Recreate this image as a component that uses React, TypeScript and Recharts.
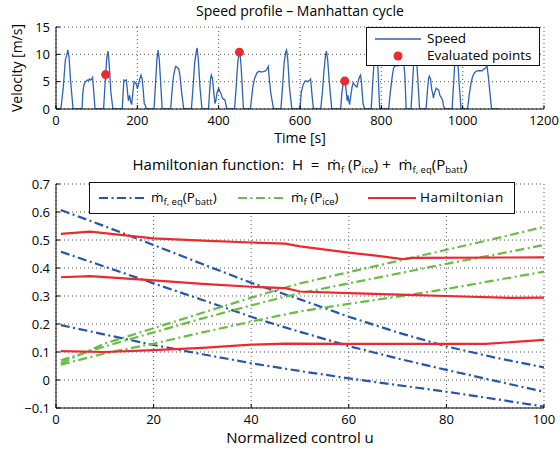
import React from 'react';
import { LineChart, Line, XAxis, YAxis, CartesianGrid, Legend } from 'recharts';

const FONT = '"Open Sans", "Noto Sans", "DejaVu Sans", sans-serif';
const BLUE = '#2456ad';
const GREEN = '#69bd45';
const RED = '#eb2a2e';
const SPEED = '#2d62b5';
const DASHDOT = '9 3.5 2 3.5';

// ---------- Speed profile (top) ----------
const timeTicks = [0, 200, 400, 600, 800, 1000, 1200];
const velocityTicks = [0, 5, 10, 15];

const speedTime = [0, 12, 18, 23, 27, 29, 32, 36, 42, 64, 66, 69, 73, 77, 80, 82, 85, 88, 90, 93, 96, 117, 121, 125, 128, 131, 135, 140, 163, 165, 167, 170, 173, 176, 178, 181, 184, 186, 189, 192, 195, 198, 200, 203, 206, 209, 212, 215, 217, 219, 222, 241, 245, 248, 251, 254, 258, 261, 282, 285, 289, 293, 295, 298, 302, 305, 309, 314, 333, 337, 341, 345, 347, 350, 354, 359, 375, 378, 380, 382, 385, 388, 391, 393, 396, 400, 403, 406, 409, 412, 415, 418, 420, 439, 443, 447, 450, 452, 455, 458, 461, 478, 481, 484, 488, 494, 499, 504, 508, 512, 516, 520, 522, 524, 528, 535, 553, 557, 561, 565, 567, 570, 574, 580, 600, 603, 608, 612, 614, 618, 621, 624, 626, 629, 633, 651, 655, 659, 663, 665, 668, 672, 678, 700, 703, 706, 709, 712, 714, 716, 718, 720, 722, 725, 728, 731, 734, 737, 740, 743, 746, 749, 751, 753, 755, 759, 775, 779, 783, 787, 790, 793, 796, 818, 822, 826, 830, 835, 840, 845, 850, 855, 858, 861, 873, 877, 880, 883, 886, 890, 894, 910, 913, 916, 918, 921, 924, 926, 928, 931, 935, 938, 941, 944, 948, 951, 953, 957, 974, 978, 981, 984, 987, 991, 996, 1012, 1016, 1020, 1024, 1028, 1033, 1038, 1044, 1048, 1052, 1056, 1060, 1063, 1067, 1071, 1090];
const speedValue = [0, 0, 4, 9, 10, 10.8, 9.5, 5, 0, 0, 3, 4.5, 5, 5.3, 5.2, 5.5, 5.3, 5.5, 5.8, 3, 0, 0, 5, 9.5, 10.6, 8, 3, 0, 0, 3, 5.3, 5.2, 5.3, 3, 1.5, 2.5, 1.2, 0.8, 3, 5, 4.8, 4.5, 3.7, 4.5, 5.5, 6.2, 5.5, 3, 1, 0.8, 0, 0, 5, 9, 10.8, 9, 4, 0, 0, 3, 6, 7.5, 7.8, 7.6, 7.3, 6, 3, 0, 0, 4, 8.5, 10.5, 11.2, 9, 4, 0, 0, 3.5, 5.5, 6.2, 5.5, 3, 1, 1.5, 3, 3.8, 3.2, 2.8, 2, 1.8, 1.7, 0.8, 0, 0, 4, 8.5, 10.3, 10.5, 8, 4, 0, 0, 2, 4, 5.5, 6.6, 6.9, 6.8, 6.8, 6.9, 7, 7.5, 7.8, 6, 3, 0, 0, 4, 8.5, 10.5, 10.8, 9, 4, 0, 0, 3, 4.5, 5, 5.2, 5, 5.1, 5.3, 5.5, 3, 0, 0, 3, 7, 10, 10.6, 9, 5, 0, 0, 3, 4.5, 5.1, 4.5, 3, 1.5, 2.5, 1.5, 0.8, 2.5, 4, 4.8, 4.5, 4.2, 4, 5, 5.8, 6.2, 5, 3, 1, 0, 0, 5, 9.5, 11, 10, 5, 0, 0, 3, 5.5, 7.5, 8, 7.9, 8, 8.2, 8.5, 6, 0, 0, 5, 9, 11, 10, 5, 0, 0, 3, 5.5, 6, 5.5, 3.5, 3, 2, 3, 3.8, 3.6, 3.5, 2.5, 2, 1.5, 0.5, 0, 0, 5, 9, 10.8, 10, 5, 0, 0, 2.5, 4.5, 5.8, 6.5, 6.9, 7, 7, 7, 7.3, 7.5, 7.8, 6, 3, 0, 0];

const evalTime = [122, 451, 710];
const evalSpeed = [6.3, 10.4, 5.1];

// ---------- Hamiltonian (bottom) ----------
const controlTicks = [0, 20, 40, 60, 80, 100];
const hamTicks = [-0.1, 0, 0.1, 0.2, 0.3, 0.4, 0.5, 0.6, 0.7];

const battHighU = [1, 10, 20, 30, 40, 50, 60, 70, 80, 90, 100];
const battHighV = [0.607, 0.549, 0.482, 0.414, 0.347, 0.288, 0.226, 0.17, 0.12, 0.08, 0.045];
const battMidU = [1, 12, 20, 30, 42, 50, 60, 70, 80, 90, 100];
const battMidV = [0.458, 0.393, 0.345, 0.286, 0.214, 0.172, 0.121, 0.077, 0.036, -0.003, -0.042];
const battLowU = [1, 20, 30, 40, 50, 60, 70, 80, 90, 100];
const battLowV = [0.196, 0.125, 0.092, 0.06, 0.032, 0.006, -0.018, -0.042, -0.068, -0.095];

const iceHighU = [1, 10, 20, 30, 43, 50, 60, 70, 80, 90, 100];
const iceHighV = [0.06, 0.13, 0.185, 0.24, 0.31, 0.345, 0.385, 0.425, 0.465, 0.505, 0.547];
const iceMidU = [1, 10, 20, 30, 43, 50, 60, 70, 80, 90, 100];
const iceMidV = [0.07, 0.12, 0.17, 0.22, 0.28, 0.31, 0.345, 0.38, 0.415, 0.448, 0.482];
const iceLowU = [1, 10, 20, 30, 43, 50, 60, 72, 80, 90, 100];
const iceLowV = [0.055, 0.095, 0.13, 0.17, 0.22, 0.245, 0.272, 0.303, 0.325, 0.356, 0.387];

const hamHighU = [1, 7, 20, 30, 40, 47, 50, 60, 66, 71, 73, 100];
const hamHighV = [0.522, 0.53, 0.506, 0.498, 0.491, 0.487, 0.477, 0.455, 0.443, 0.432, 0.436, 0.438];
const hamMidU = [1, 7, 20, 30, 40, 47, 50, 60, 72, 80, 93, 100];
const hamMidV = [0.367, 0.371, 0.356, 0.343, 0.333, 0.328, 0.316, 0.31, 0.304, 0.3, 0.293, 0.294];
const hamLowU = [1, 10, 20, 30, 40, 47, 60, 72, 88, 100];
const hamLowV = [0.103, 0.1, 0.107, 0.115, 0.126, 0.13, 0.129, 0.129, 0.129, 0.143];

const zipPts = (xs: number[], ys: number[], kx: string) => xs.map((x, i) => ({ [kx]: x, v: ys[i] }));

const speedData = zipPts(speedTime, speedValue, 't');
const evalData = zipPts(evalTime, evalSpeed, 't');

const bottomSeries = [
  { id: 'b1', data: zipPts(battHighU, battHighV, 'u'), color: BLUE, dash: DASHDOT, w: 2.2 },
  { id: 'b2', data: zipPts(battMidU, battMidV, 'u'), color: BLUE, dash: DASHDOT, w: 2.2 },
  { id: 'b3', data: zipPts(battLowU, battLowV, 'u'), color: BLUE, dash: DASHDOT, w: 2.2 },
  { id: 'g1', data: zipPts(iceHighU, iceHighV, 'u'), color: GREEN, dash: DASHDOT, w: 2.2 },
  { id: 'g2', data: zipPts(iceMidU, iceMidV, 'u'), color: GREEN, dash: DASHDOT, w: 2.2 },
  { id: 'g3', data: zipPts(iceLowU, iceLowV, 'u'), color: GREEN, dash: DASHDOT, w: 2.2 },
  { id: 'h1', data: zipPts(hamHighU, hamHighV, 'u'), color: RED, dash: undefined, w: 2.2 },
  { id: 'h2', data: zipPts(hamMidU, hamMidV, 'u'), color: RED, dash: undefined, w: 2.2 },
  { id: 'h3', data: zipPts(hamLowU, hamLowV, 'u'), color: RED, dash: undefined, w: 2.2 },
];

const tickStyle = { fill: '#000', fontSize: 13, fontFamily: FONT };
const fmtHam = (v: number) => {
  const r = Math.round(v * 10) / 10;
  if (r === 0) return '0';
  return r < 0 ? '\u2212' + Math.abs(r).toString() : r.toString();
};

const sub = { fontSize: 9.5, position: 'relative' as const, top: 3 };

const SpeedLegend = () => (
  <div style={{ width: 174, height: 39, boxSizing: 'border-box', border: '1.5px solid #111', background: '#fff', position: 'relative', fontFamily: FONT, fontSize: 13.5, color: '#000' }}>
    <svg width={46} height={10} style={{ position: 'absolute', left: 8, top: 6 }}>
      <line x1={0} y1={5} x2={46} y2={5} stroke={SPEED} strokeWidth={1.3} />
    </svg>
    <span style={{ position: 'absolute', left: 60, top: 1, lineHeight: '18px' }}>Speed</span>
    <svg width={12} height={12} style={{ position: 'absolute', left: 25, top: 22 }}>
      <circle cx={6} cy={6} r={4.5} fill={RED} />
    </svg>
    <span style={{ position: 'absolute', left: 60, top: 18, lineHeight: '18px' }}>Evaluated points</span>
  </div>
);

const HamLegend = () => (
  <div style={{ width: 426, height: 32, boxSizing: 'border-box', border: '1.5px solid #111', background: '#fff', position: 'relative', fontFamily: FONT, fontSize: 13.5, color: '#000' }}>
    <svg width={48} height={10} style={{ position: 'absolute', left: 9, top: 10 }}>
      <line x1={0} y1={5} x2={48} y2={5} stroke={BLUE} strokeWidth={2.2} strokeDasharray={DASHDOT} />
    </svg>
    <span style={{ position: 'absolute', left: 61, top: 5, lineHeight: '18px', whiteSpace: 'nowrap' }}>
      ṁ<span style={sub}>f, eq</span>(P<span style={sub}>batt</span>)
    </span>
    <svg width={48} height={10} style={{ position: 'absolute', left: 148, top: 10 }}>
      <line x1={0} y1={5} x2={48} y2={5} stroke={GREEN} strokeWidth={2.2} strokeDasharray={DASHDOT} />
    </svg>
    <span style={{ position: 'absolute', left: 201, top: 5, lineHeight: '18px', whiteSpace: 'nowrap' }}>
      ṁ<span style={sub}>f</span> (P<span style={sub}>ice</span>)
    </span>
    <svg width={48} height={10} style={{ position: 'absolute', left: 278, top: 10 }}>
      <line x1={0} y1={5} x2={48} y2={5} stroke={RED} strokeWidth={2.2} />
    </svg>
    <span style={{ position: 'absolute', left: 330, top: 5, lineHeight: '18px', whiteSpace: 'nowrap', letterSpacing: 0.6 }}>Hamiltonian</span>
  </div>
);

const centered = (x: number, y: number, size: number): React.CSSProperties => ({
  position: 'absolute', left: x, top: y, transform: 'translate(-50%, -50%)', whiteSpace: 'nowrap',
  fontFamily: FONT, fontSize: size, color: '#000', lineHeight: 1,
});

export default function App() {
  return (
    <div style={{ position: 'absolute', left: 0, top: 0, width: 560, height: 451, background: '#fff', overflow: 'hidden' }}>
      {/* Top chart */}
      <div style={{ position: 'absolute', left: 0, top: 0 }}>
        <LineChart width={560} height={145} margin={{ top: 27, right: 16, left: 16, bottom: 6 }}>
          <CartesianGrid stroke="#555" strokeDasharray="1 3" />
          <XAxis dataKey="t" type="number" domain={[0, 1200]} ticks={timeTicks} allowDataOverflow
            height={30} tickSize={-4} tickMargin={11} tick={tickStyle} axisLine={{ stroke: '#000' }} tickLine={{ stroke: '#000' }} />
          <XAxis xAxisId="top" orientation="top" type="number" domain={[0, 1200]} ticks={timeTicks} allowDataOverflow
            height={0} tickSize={-4} tick={false} axisLine={{ stroke: '#000' }} tickLine={{ stroke: '#000' }} />
          <YAxis type="number" domain={[0, 15]} ticks={velocityTicks} allowDataOverflow
            width={40} tickSize={-4} tickMargin={10} tick={tickStyle} axisLine={{ stroke: '#000' }} tickLine={{ stroke: '#000' }} />
          <YAxis yAxisId="right" orientation="right" type="number" domain={[0, 15]} ticks={velocityTicks} allowDataOverflow
            width={0} tickSize={-4} tick={false} axisLine={{ stroke: '#000' }} tickLine={{ stroke: '#000' }} />
          <Line data={speedData} dataKey="v" type="linear" stroke={SPEED} strokeWidth={1.3} dot={false} isAnimationActive={false} />
          <Line data={evalData} dataKey="v" stroke="none" dot={{ r: 4.5, fill: RED, stroke: 'none' }} activeDot={false} isAnimationActive={false} legendType="circle" />
          <Legend layout="vertical" align="center" verticalAlign="middle" content={() => <SpeedLegend />}
            wrapperStyle={{ position: 'absolute', left: 366, top: 27, width: 174, height: 39 }} />
        </LineChart>
      </div>

      {/* Bottom chart */}
      <div style={{ position: 'absolute', left: 0, top: 145 }}>
        <LineChart width={560} height={306} margin={{ top: 39, right: 16, left: 16, bottom: 13 }}>
          <CartesianGrid stroke="#555" strokeDasharray="1 3" />
          <XAxis dataKey="u" type="number" domain={[0, 100]} ticks={controlTicks} allowDataOverflow
            height={30} tickSize={-4} tickMargin={11} tick={tickStyle} axisLine={{ stroke: '#000' }} tickLine={{ stroke: '#000' }} />
          <XAxis xAxisId="top" orientation="top" type="number" domain={[0, 100]} ticks={controlTicks} allowDataOverflow
            height={0} tickSize={-4} tick={false} axisLine={{ stroke: '#000' }} tickLine={{ stroke: '#000' }} />
          <YAxis type="number" domain={[-0.1, 0.7]} ticks={hamTicks} allowDataOverflow tickFormatter={fmtHam}
            width={40} tickSize={-4} tickMargin={10} tick={tickStyle} axisLine={{ stroke: '#000' }} tickLine={{ stroke: '#000' }} />
          <YAxis yAxisId="right" orientation="right" type="number" domain={[-0.1, 0.7]} ticks={hamTicks} allowDataOverflow
            width={0} tickSize={-4} tick={false} axisLine={{ stroke: '#000' }} tickLine={{ stroke: '#000' }} />
          {bottomSeries.map((s) => (
            <Line key={s.id} data={s.data} dataKey="v" type="linear" stroke={s.color} strokeWidth={s.w}
              strokeDasharray={s.dash} dot={false} activeDot={false} isAnimationActive={false} />
          ))}
          <Legend layout="vertical" align="center" verticalAlign="middle" content={() => <HamLegend />}
            wrapperStyle={{ position: 'absolute', left: 89, top: 37, width: 426, height: 32 }} />
        </LineChart>
      </div>

      <div style={centered(300, 11, 14)}>Speed profile – Manhattan cycle</div>
      <div style={{ ...centered(17, 68, 14), transform: 'translate(-50%, -50%) rotate(-90deg)' }}>Velocity [m/s]</div>
      <div style={centered(300, 138, 14)}>Time [s]</div>
      <div style={centered(300, 164, 15)}>
        Hamiltonian function:&nbsp; H &nbsp;=&nbsp; ṁ<span style={sub}>f</span> (P<span style={sub}>ice</span>) + &nbsp;ṁ<span style={sub}>f, eq</span>(P<span style={sub}>batt</span>)
      </div>
      <div style={centered(300, 437, 15)}>Normalized control u</div>
    </div>
  );
}
